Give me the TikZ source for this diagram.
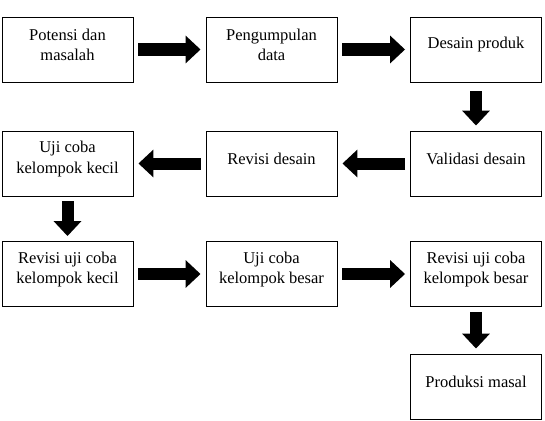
\documentclass[tikz,border=0pt]{standalone}
\usepackage{fontspec}
\setmainfont{Liberation Serif}
\usepackage{tikz}
\usetikzlibrary{arrows.meta}

\tikzset{
  kotak/.style={draw,line width=0.9pt,minimum width=131pt,minimum height=65pt},
  isi/.style={align=center,font=\fontsize{16.5}{20.7}\selectfont,yshift=4.5pt},
  panah/.style={line width=12pt,-{Triangle[length=15pt,width=27pt]},shorten <=5pt,shorten >=5pt}
}

\begin{document}
\begin{tikzpicture}[x=1pt,y=-1pt]
    \useasboundingbox (0,0) rectangle (545,420);
    % baris 1
    \node[kotak,label={[isi]center:Potensi dan\\masalah}] (potensi) at (67.5,49.5) {};
    \node[kotak,label={[isi]center:Pengumpulan\\data}] (data) at (271.5,49.5) {};
    \node[kotak,label={[isi]center:Desain produk}] (desain) at (476,49.5) {};
    % baris 2
    \node[kotak,label={[isi]center:Uji coba\\kelompok kecil}] (ujikecil) at (67.5,163.5) {};
    \node[kotak,label={[isi]center:Revisi desain}] (revdesain) at (271.5,163.5) {};
    \node[kotak,label={[isi]center:Validasi desain}] (validasi) at (476,163.5) {};
    % baris 3
    \node[kotak,label={[isi]center:Revisi uji coba\\kelompok kecil}] (revkecil) at (67.5,274) {};
    \node[kotak,label={[isi]center:Uji coba\\kelompok besar}] (ujibesar) at (271.5,274) {};
    \node[kotak,label={[isi]center:Revisi uji coba\\kelompok besar}] (revbesar) at (476,274) {};
    % baris 4
    \node[kotak,label={[isi]center:Produksi masal}] (produksi) at (476,386.5) {};

    \draw[panah] (potensi) -- (data);
    \draw[panah] (data) -- (desain);
    \draw[panah,shorten <=9pt] (desain) -- (validasi);
    \draw[panah] (validasi) -- (revdesain);
    \draw[panah] (revdesain) -- (ujikecil);
    \draw[panah] (ujikecil) -- (revkecil);
    \draw[panah] (revkecil) -- (ujibesar);
    \draw[panah] (ujibesar) -- (revbesar);
    \draw[panah] (revbesar) -- (produksi);
\end{tikzpicture}
\end{document}
